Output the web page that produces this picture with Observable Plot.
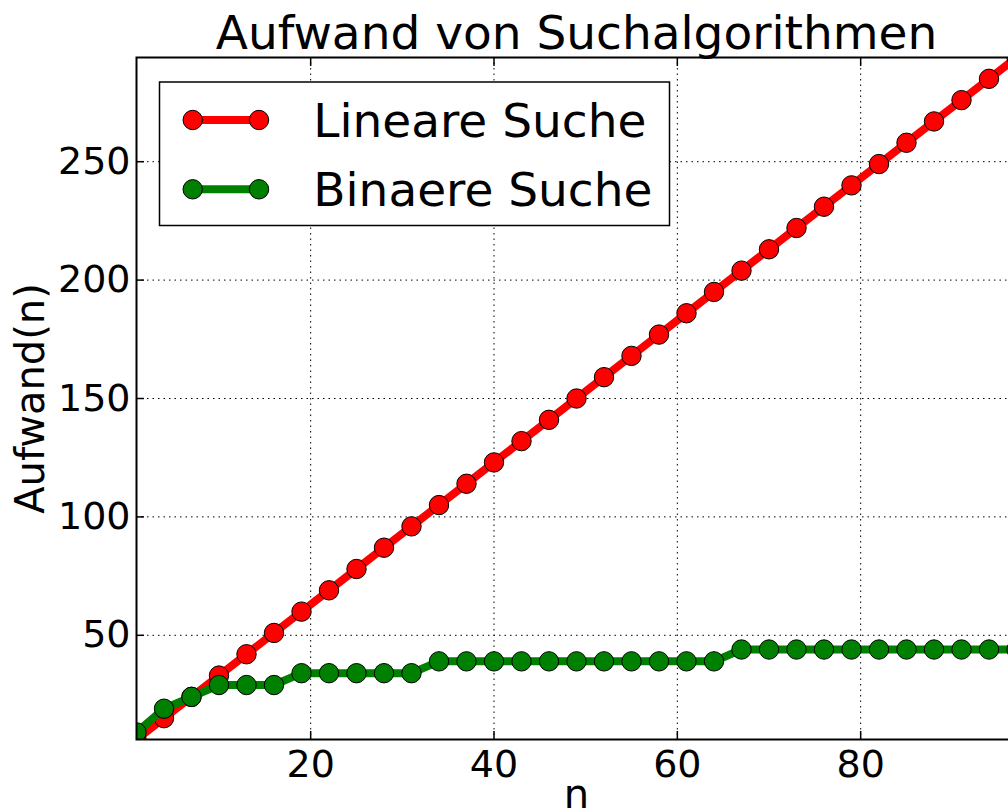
<!DOCTYPE html>
<html>
<head>
<meta charset="utf-8">
<script src="https://cdn.jsdelivr.net/npm/d3@7"></script>
<script src="https://cdn.jsdelivr.net/npm/@observablehq/plot@0.6"></script>
<style>
  html, body { margin: 0; padding: 0; background: #fff; overflow: hidden; }
  #chart { width: 1008px; height: 812px; overflow: hidden; }
</style>
</head>
<body>
<div id="chart"></div>
<script>
// ---- data ----
const titleText = "Aufwand von Suchalgorithmen";
const xLabelText = "n";
const yLabelText = "Aufwand(n)";
const seriesNames = ["Lineare Suche", "Binaere Suche"];
const seriesColors = ["#ff0000", "#008000"];
const nValues = [1, 4, 7, 10, 13, 16, 19, 22, 25, 28, 31, 34, 37, 40, 43, 46, 49,
                 52, 55, 58, 61, 64, 67, 70, 73, 76, 79, 82, 85, 88, 91, 94, 97];
const linearValues = [6, 15, 24, 33, 42, 51, 60, 69, 78, 87, 96, 105, 114, 123, 132, 141, 150,
                      159, 168, 177, 186, 195, 204, 213, 222, 231, 240, 249, 258, 267, 276, 285, 294];
const binaryValues = [9, 19, 24, 29, 29, 29, 34, 34, 34, 34, 34, 39, 39, 39, 39, 39, 39,
                      39, 39, 39, 39, 39, 44, 44, 44, 44, 44, 44, 44, 44, 44, 44, 44];
const xTicks = [20, 40, 60, 80];
const yTicks = [50, 100, 150, 200, 250];
const xDomain = [1, 97];
const yDomain = [6, 294];

// ---- build table ----
const seriesValues = [linearValues, binaryValues];
const rows = [];
seriesNames.forEach((s, k) => nValues.forEach((v, i) => rows.push({n: v, value: seriesValues[k][i], series: s})));

const FONT = "DejaVu Sans, Liberation Sans, sans-serif";
const gridStyle = {stroke: "black", strokeOpacity: 1, strokeWidth: 1, strokeDasharray: "1.5,4"};

const seriesMarks = [];
seriesNames.forEach((s, k) => {
  const d = rows.filter(r => r.series === s);
  seriesMarks.push(Plot.line(d, {x: "n", y: "value", stroke: seriesColors[k], strokeWidth: 8, clip: true}));
  seriesMarks.push(Plot.dot(d, {x: "n", y: "value", r: 9.7, fill: seriesColors[k], fillOpacity: 1, stroke: "black", strokeWidth: 1, clip: true}));
});

const plot = Plot.plot({
  width: 1008,
  height: 812,
  marginLeft: 136,
  marginTop: 57,
  marginBottom: 73,
  marginRight: -8,
  x: {domain: xDomain, label: null},
  y: {domain: yDomain, label: null},
  style: {fontFamily: FONT, fontSize: "38px", color: "black", background: "white"},
  marks: [
    Plot.gridX(xTicks, gridStyle),
    Plot.gridY(yTicks, gridStyle),
    ...seriesMarks,
    Plot.frame({stroke: "black", strokeWidth: 2}),
    Plot.axisX(xTicks, {anchor: "bottom", tickSize: -8, tickPadding: 19, fontSize: 38, label: null, strokeWidth: 1.5}),
    Plot.axisX(xTicks, {anchor: "top", tickSize: -8, tickFormat: () => "", label: null, strokeWidth: 1.5}),
    Plot.axisY(yTicks, {anchor: "left", tickSize: -8, tickPadding: 14, fontSize: 38, label: null, strokeWidth: 1.5}),
    Plot.text([titleText], {frameAnchor: "top", dy: -9, lineAnchor: "bottom", textAnchor: "middle", fontSize: 47, fill: "black"}),
    Plot.text([xLabelText], {frameAnchor: "bottom", dy: 68.5, lineAnchor: "bottom", textAnchor: "middle", fontSize: 40, fill: "black"}),
    Plot.text([yLabelText], {frameAnchor: "left", dx: -93, rotate: -90, lineAnchor: "bottom", textAnchor: "middle", fontSize: 40, fill: "black"})
  ]
});

// ---- legend (drawn into the same SVG) ----
const svg = d3.select(plot);
const legend = svg.append("g").attr("font-family", FONT).attr("text-anchor", "start");
legend.append("rect")
  .attr("x", 159.5).attr("y", 82).attr("width", 510).attr("height", 143.5)
  .attr("fill", "white").attr("stroke", "black").attr("stroke-width", 1.5);
seriesNames.forEach((s, k) => {
  const cy = 120 + k * 69.3;
  const g = legend.append("g");
  g.append("line").attr("x1", 192.7).attr("x2", 259).attr("y1", cy).attr("y2", cy)
    .attr("stroke", seriesColors[k]).attr("stroke-width", 8);
  [192.7, 259].forEach(cx => g.append("circle").attr("cx", cx).attr("cy", cy).attr("r", 9.7)
    .attr("fill", seriesColors[k]).attr("stroke", "black").attr("stroke-width", 1));
  g.append("text").attr("x", 313.3).attr("y", cy + 16.7).attr("font-size", 47)
    .attr("text-anchor", "start").attr("fill", "black").text(s);
});

document.getElementById("chart").appendChild(plot);
</script>
</body>
</html>
